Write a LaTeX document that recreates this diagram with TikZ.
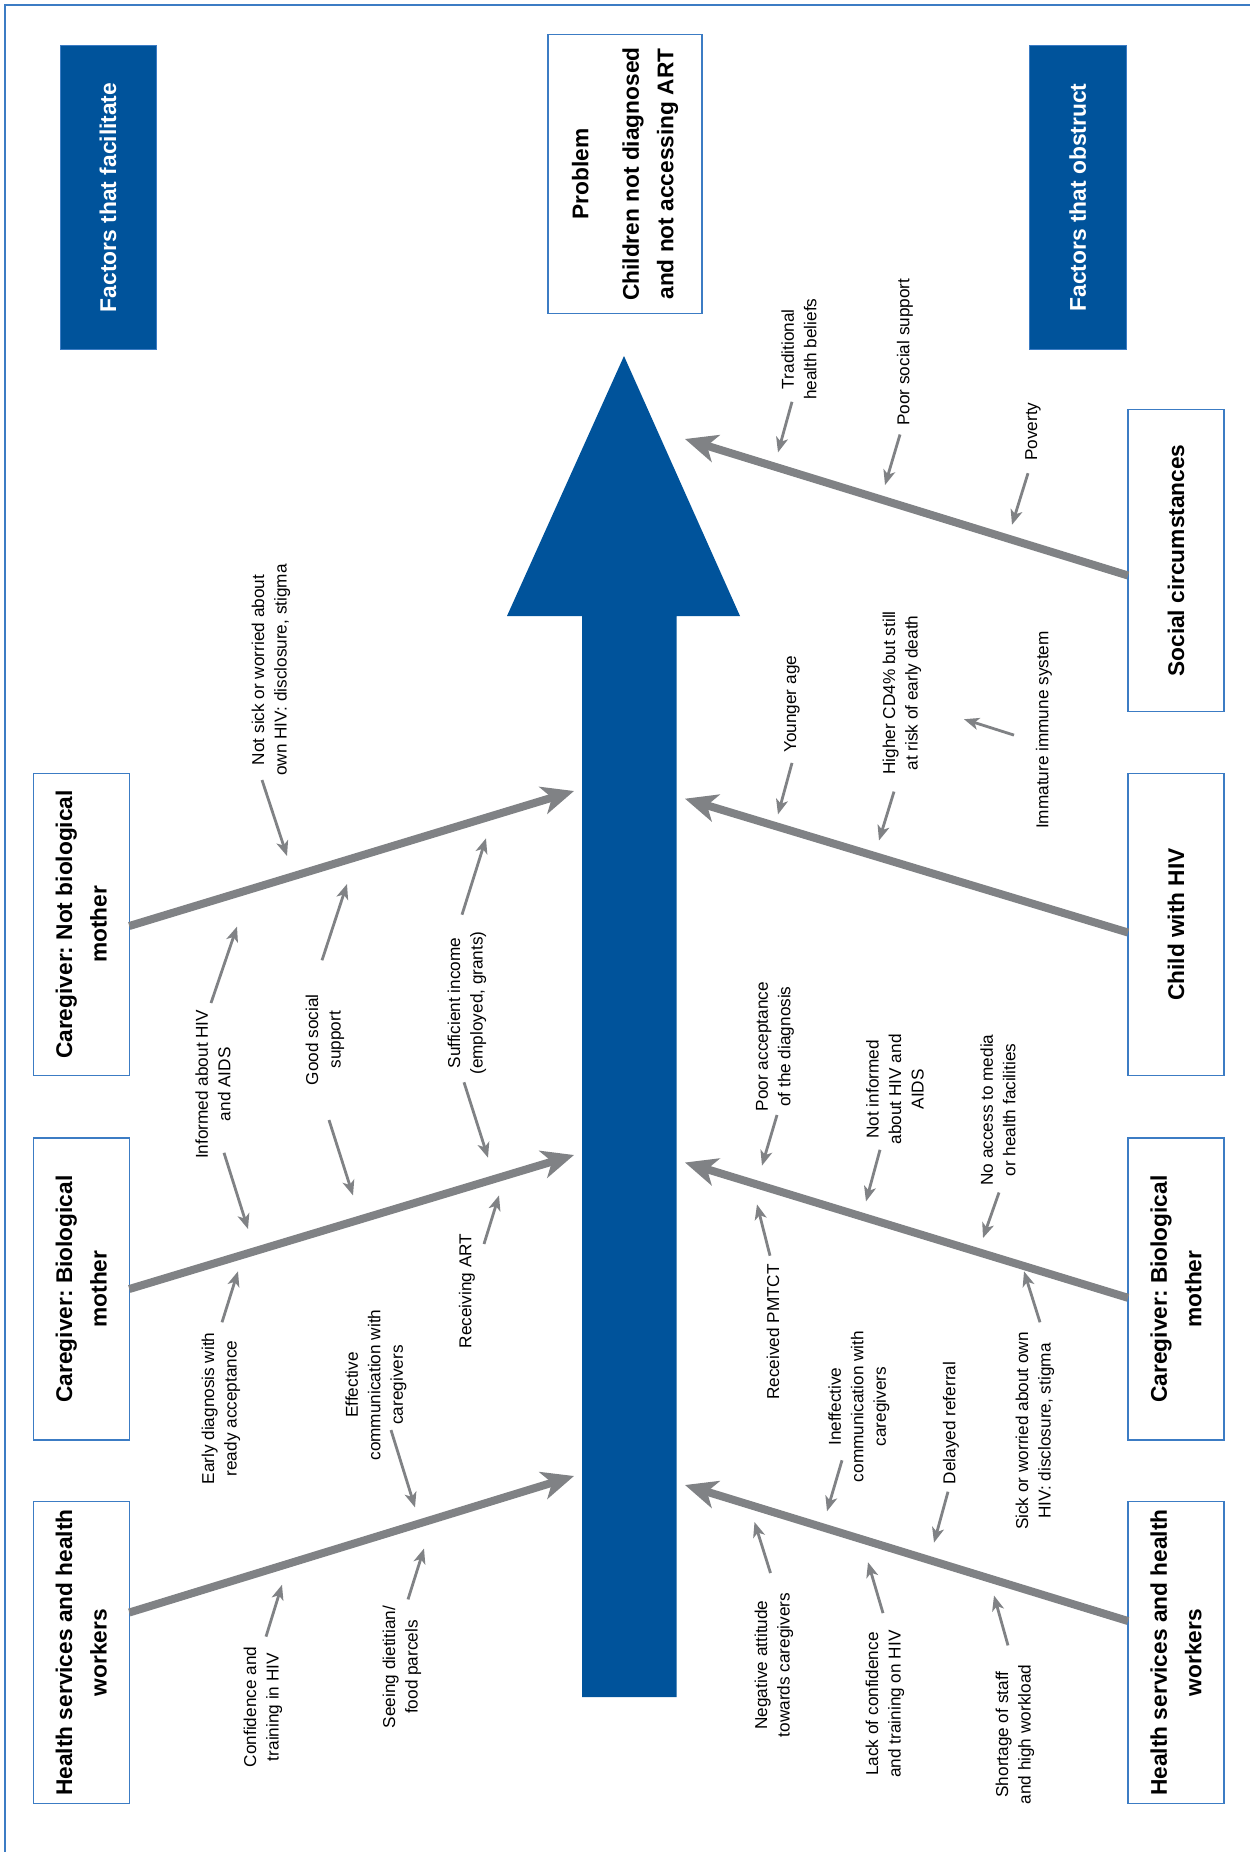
\documentclass[tikz,border=0pt]{standalone}
\usepackage{fontspec}
\setmainfont{Liberation Sans}
\usetikzlibrary{arrows.meta}
\frenchspacing
\definecolor{fbblue}{HTML}{00539B}
\definecolor{bonegray}{HTML}{808285}
\definecolor{boxblue}{HTML}{3C7CC4}
\tikzset{
 headbox/.style={fill=fbblue, draw=boxblue, line width=1pt, rotate=90, align=center, text=white,
   font=\fontsize{22.8}{34.5}\selectfont\bfseries, inner sep=0pt},
 catbox/.style={draw=boxblue, line width=1.5pt, fill=white, rotate=90, align=center,
   font=\fontsize{22.7}{34.5}\selectfont\bfseries, inner sep=0pt},
 lbl/.style={rotate=90, align=center, font=\fontsize{17.2}{22.5}\selectfont, inner sep=0pt},
 bone/.style={draw=bonegray, line width=8pt, -{Stealth[length=32pt,width=28pt,inset=9pt]}},
 twig/.style={draw=bonegray, line width=2.8pt, -{Stealth[length=15pt,width=12pt,inset=4pt]}},
}
\begin{document}
\begin{tikzpicture}[x=1pt,y=-1pt]
\useasboundingbox (0,0) rectangle (1250,1852);
\fill[white] (0,0) rectangle (1250,1852);
\draw[boxblue, line width=1.5pt] (5,1852) -- (5,5) -- (1250,5);

% header boxes
\node[headbox, minimum width=303.6pt, minimum height=96pt] (fac) at (108,197.4) {Factors that facilitate};
\node[headbox, minimum width=303.6pt, minimum height=96.5pt] (obs) at (1077.75,197.4) {Factors that obstruct};
\node[catbox, minimum width=278.8pt, minimum height=154pt] (prob) at (625,174.1) {Problem\\[16pt]Children not diagnosed\\and not accessing ART};

% big arrow
\fill[fbblue] (582,1697) -- (582,616) -- (507,616) -- (624,356) -- (740,616) -- (676.5,616) -- (676.5,1697) -- cycle;

% category boxes left
\node[catbox, minimum width=302.4pt, minimum height=96pt] (nbm) at (81.3,924.5) {Caregiver: Not biological\\mother};
\node[catbox, minimum width=302pt, minimum height=96pt] (lbm) at (81.3,1289) {Caregiver: Biological\\mother};
\node[catbox, minimum width=301.6pt, minimum height=96pt] (lhs) at (81.3,1652.5) {Health services and health\\workers};
% category boxes right
\node[catbox, minimum width=302.4pt, minimum height=96pt] (soc) at (1176,560.5) {Social circumstances};
\node[catbox, minimum width=302.4pt, minimum height=96pt] (chi) at (1176,924.5) {Child with HIV};
\node[catbox, minimum width=302pt, minimum height=96pt] (rbm) at (1176,1289) {Caregiver: Biological\\mother};
\node[catbox, minimum width=301.6pt, minimum height=96pt] (rhs) at (1176,1652.5) {Health services and health\\workers};

% bone coordinates
\coordinate (L1s) at (129.3,926);  \coordinate (L1t) at (574,791);
\coordinate (L2s) at (129.3,1289); \coordinate (L2t) at (574,1155);
\coordinate (L3s) at (129.3,1612.5); \coordinate (L3t) at (574,1476);
\coordinate (R1s) at (1128,575.5); \coordinate (R1t) at (685,439);
\coordinate (R2s) at (1128,932.5); \coordinate (R2t) at (685,798.7);
\coordinate (R3s) at (1128,1297.8);\coordinate (R3t) at (685,1162.5);
\coordinate (R4s) at (1128,1621);\coordinate (R4t) at (685,1485);
\foreach \b in {L1,L2,L3,R1,R2,R3,R4} {\draw[bone] (\b s) -- (\b t);}

% labels
\node[lbl] (l1) at (271,670) {Not sick or worried about\\own HIV: disclosure, stigma};
\node[lbl] (l2) at (213,1084.3) {Informed about HIV\\and AIDS};
\node[lbl] (l3) at (325,1039.7) {Good social\\support};
\node[lbl] (l4) at (467,1003) {Sufficient income\\(employed, grants)};
\node[lbl] (l5) at (221,1408.4) {Early diagnosis with\\ready acceptance};
\node[lbl] (l6) at (376,1385) {Effective\\communication with\\caregivers};
\node[lbl] (l7) at (467,1291) {Receiving ART};
\node[lbl] (l8) at (263,1707) {Confidence and\\training in HIV};
\node[lbl] (l9) at (402,1667) {Seeing dietitian/\\food parcels};
\node[lbl] (l10) at (799,349.2) {Traditional\\health beliefs};
\node[lbl] (l11) at (905,352.2) {Poor social support};
\node[lbl] (l12) at (1033,431.6) {Poverty};
\node[lbl] (l13) at (792,704.3) {Younger age};
\node[lbl] (l14) at (902,693) {Higher CD4\% but still\\at risk of early death};
\node[lbl] (l15) at (1044,730) {Immature immune system};
\node[lbl] (l16) at (775,1046.6) {Poor acceptance\\of the diagnosis};
\node[lbl] (l17) at (895,1089.3) {Not informed\\about HIV and\\AIDS};
\node[lbl] (l18) at (998,1110) {No access to media\\or health facilities};
\node[lbl] (l19) at (773,1332) {Received PMTCT};
\node[lbl] (l20) at (1035,1431) {Sick or worried about own\\HIV: disclosure, stigma};
\node[lbl] (l21) at (859,1406.5) {Ineffective\\communication with\\caregivers};
\node[lbl] (l22) at (951,1423) {Delayed referral};
\node[lbl] (l23) at (774,1665) {Negative attitude\\towards caregivers};
\node[lbl] (l24) at (885,1704) {Lack of confidence\\and training on HIV};
\node[lbl] (l25) at (1015,1734.6) {Shortage of staff\\and high workload};

% twig arrows
\coordinate (a1s) at (262,780);   \coordinate (a1t) at (287,856);
\coordinate (a2s) at (211,1003);  \coordinate (a2t) at (237,926.6);
\coordinate (a3s) at (224,1152.8);  \coordinate (a3t) at (248,1229);
\coordinate (a4s) at (322,960.3);   \coordinate (a4t) at (347,884);
\coordinate (a5s) at (329,1120);  \coordinate (a5t) at (353,1195.4);
\coordinate (a6s) at (462,914.7);   \coordinate (a6t) at (486,838.3);
\coordinate (a7s) at (464,1082.3);  \coordinate (a7t) at (488,1157.7);
\coordinate (a8s) at (222,1322.3);  \coordinate (a8t) at (238,1271.3);
\coordinate (a9s) at (391,1430);  \coordinate (a9t) at (415,1507.4);
\coordinate (a10s) at (484,1244); \coordinate (a10t) at (499,1195.4);
\coordinate (a11s) at (266,1636.6); \coordinate (a11t) at (282,1584.7);
\coordinate (a12s) at (408,1599.4); \coordinate (a12t) at (424,1548.5);
\coordinate (a13s) at (792,401.8);  \coordinate (a13t) at (778,452.4);
\coordinate (a14s) at (900,434.5);  \coordinate (a14t) at (885,485.1);
\coordinate (a15s) at (1028,473.2); \coordinate (a15t) at (1012,524.8);
\coordinate (a16s) at (792,762.9);  \coordinate (a16t) at (778,814.4);
\coordinate (a17s) at (894,791.6);  \coordinate (a17t) at (879,840.5);
\coordinate (a18s) at (1014,735.1); \coordinate (a18t) at (964,719.2);
\coordinate (a19s) at (777,1115); \coordinate (a19t) at (762,1165.6);
\coordinate (a20s) at (880,1149.8); \coordinate (a20t) at (866,1201.4);
\coordinate (a21s) at (999,1192.5); \coordinate (a21t) at (983,1238);
\coordinate (a22s) at (770,1255.7); \coordinate (a22t) at (757,1204.4);
\coordinate (a23s) at (1040,1322.3);\coordinate (a23t) at (1024,1271.3);
\coordinate (a24s) at (842,1460.3); \coordinate (a24t) at (827,1511.3);
\coordinate (a25s) at (948,1491.7); \coordinate (a25t) at (934,1542.6);
\coordinate (a26s) at (770.5,1573); \coordinate (a26t) at (754.5,1522);
\coordinate (a27s) at (883,1613.1); \coordinate (a27t) at (868,1562.2);
\coordinate (a28s) at (1008,1645.4);\coordinate (a28t) at (994,1595.5);
\foreach \i in {1,...,28} {\draw[twig] (a\i s) -- (a\i t);}
\end{tikzpicture}
\end{document}
